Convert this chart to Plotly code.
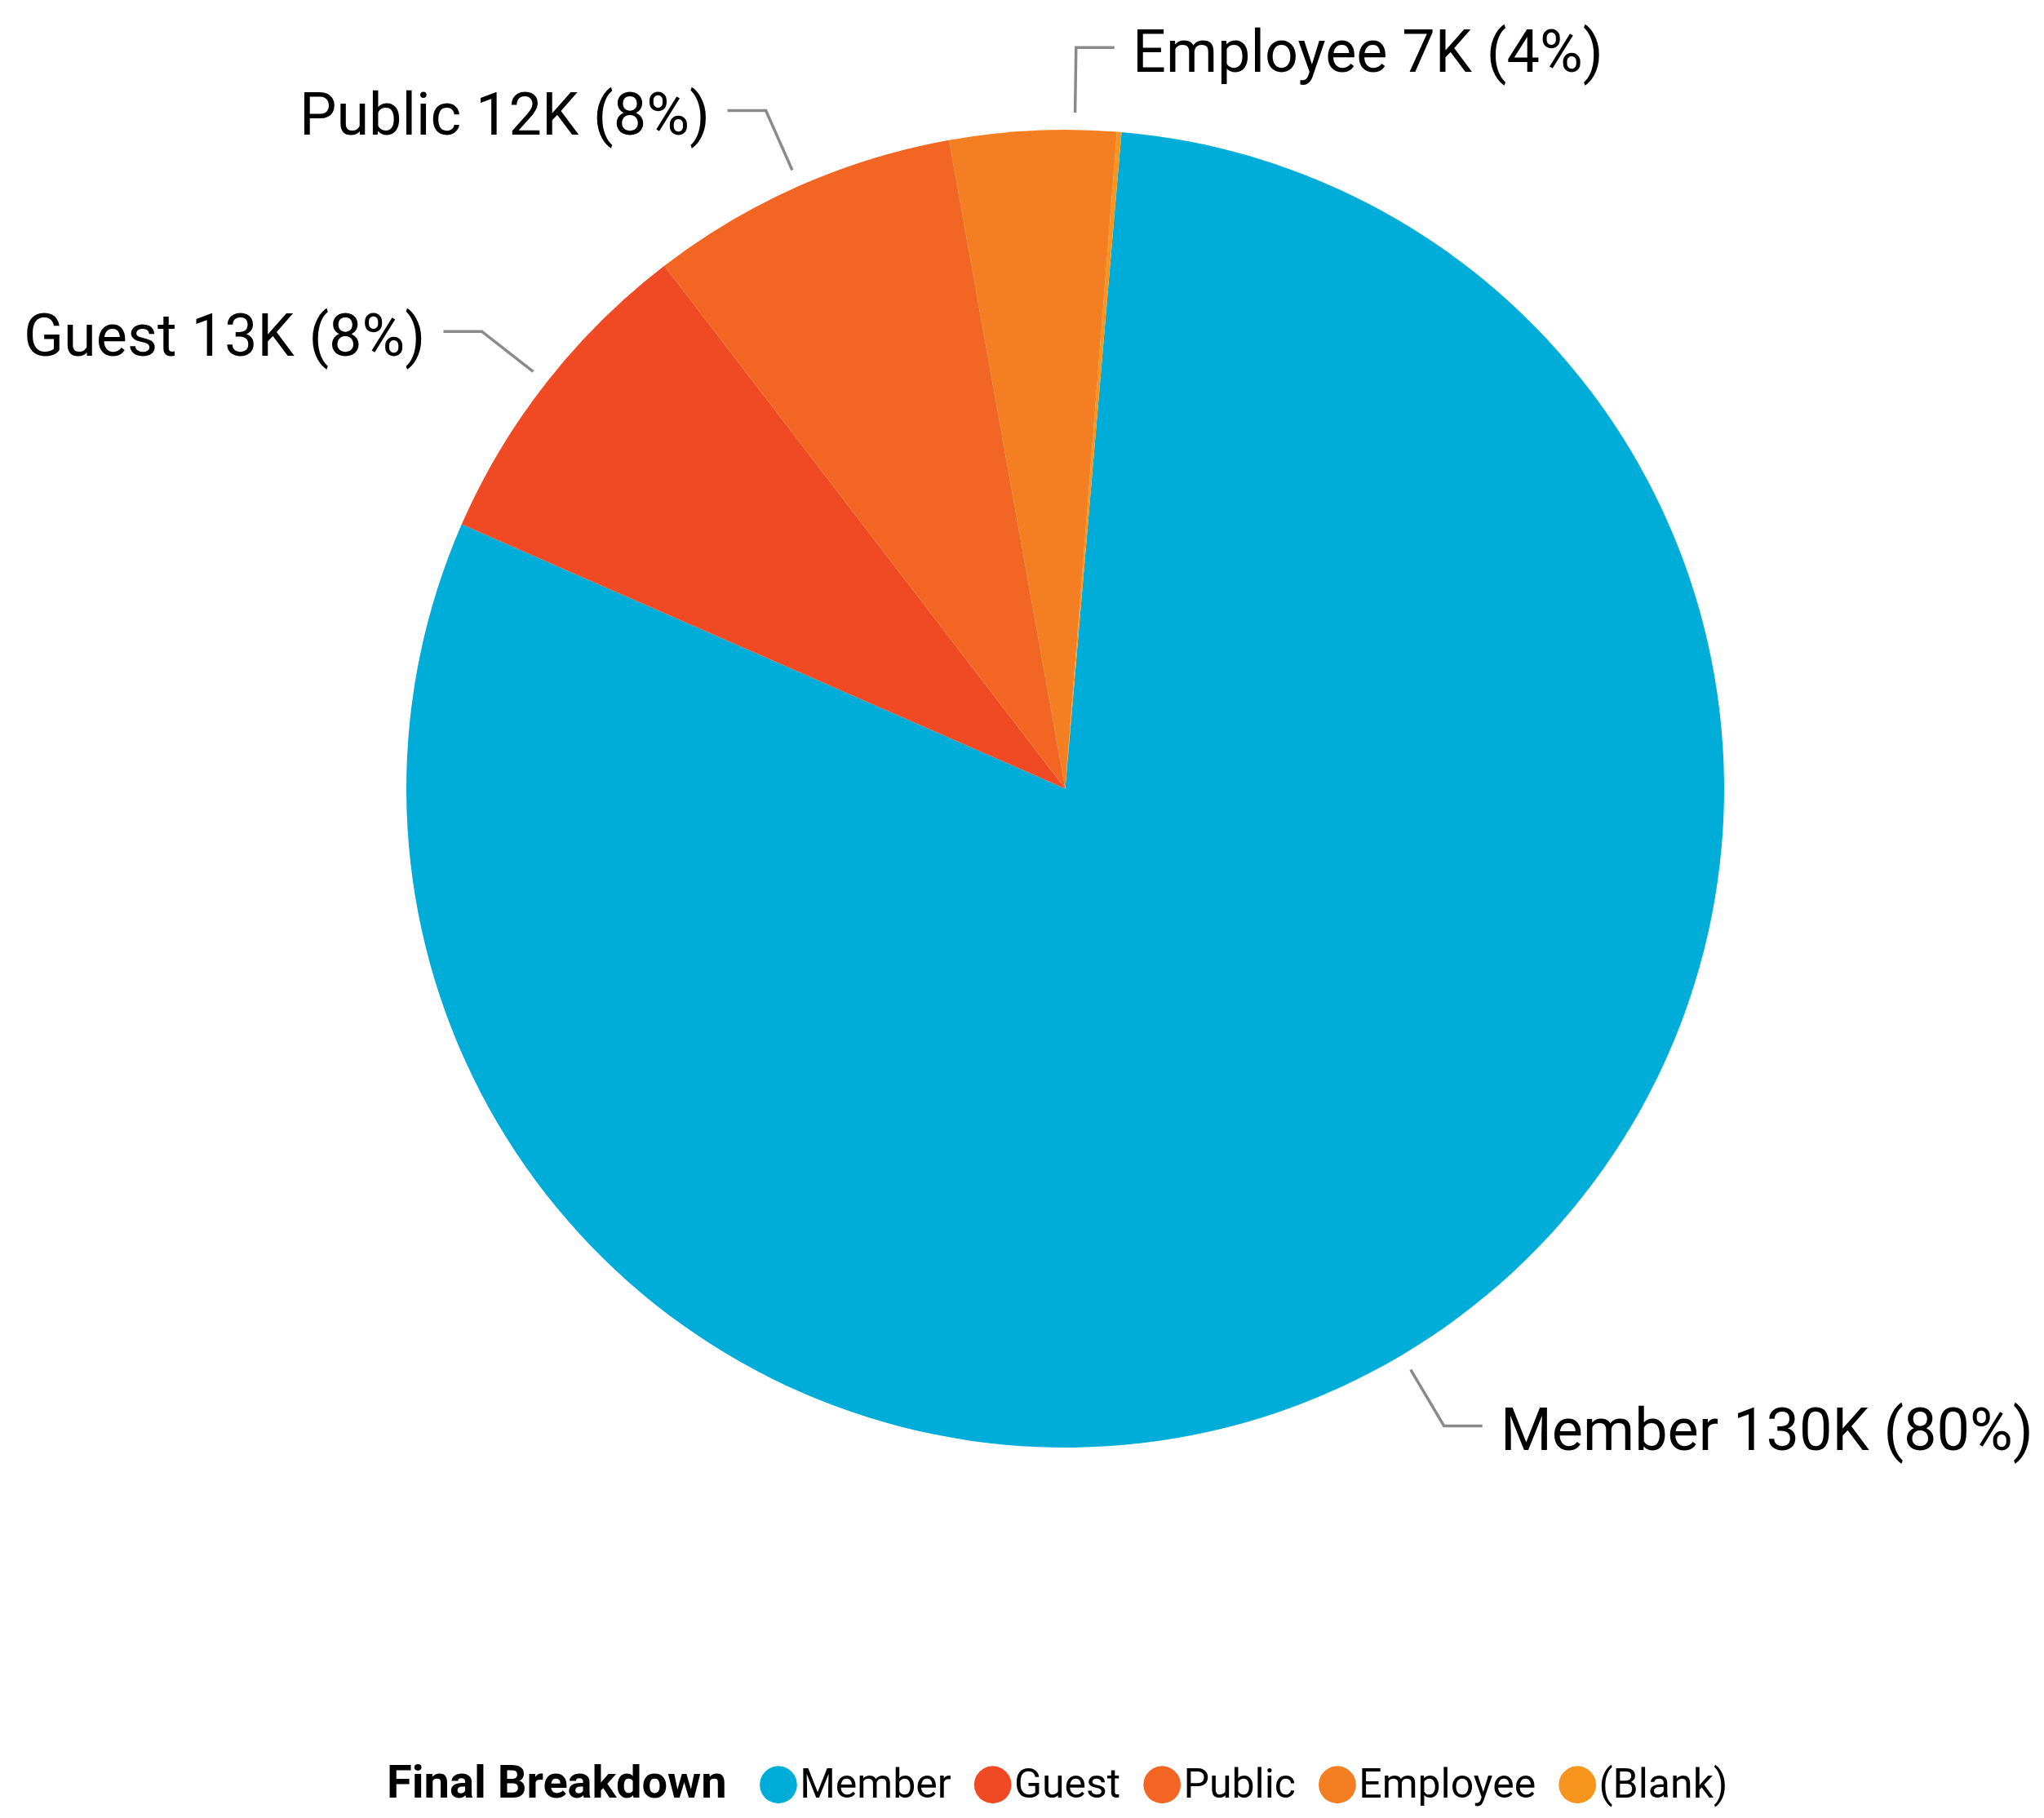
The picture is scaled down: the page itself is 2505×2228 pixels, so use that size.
import math
import plotly.graph_objects as go

# ---- data ----
categories = ["Member", "Guest", "Public", "Employee", "(Blank)"]
values = [130000, 13000, 12300, 6600, 180]
colors = ["#00ADD9", "#F04A24", "#F26523", "#F47F22", "#F7951E"]
legend_title = "Final Breakdown"

# ---- layout settings ----
PAGE_MARGIN = 8          # default body margin of the html page
W, H = 2505 - 2 * PAGE_MARGIN, 2228 - 2 * PAGE_MARGIN
# pie box (in screen pixels): left 498, right 2113, top 159, bottom 1774
dom_x = [(498 - PAGE_MARGIN) / W, (2113 - PAGE_MARGIN) / W]
dom_y = [1 - (1774 - PAGE_MARGIN) / H, 1 - (159 - PAGE_MARGIN) / H]
rotation = 4.9
label_font = dict(family="Roboto, 'Noto Sans', sans-serif", size=72, color="#000000")
leader_color = "#8A8A8A"

fig = go.Figure(
    go.Pie(
        labels=categories,
        values=values,
        sort=False,
        direction="clockwise",
        rotation=rotation,
        marker=dict(colors=colors, line=dict(color="white", width=0)),
        textinfo="none",
        showlegend=False,
        domain=dict(x=dom_x, y=dom_y),
        hoverinfo="label+value+percent",
    )
)

# pie geometry in figure pixels (as plotly computes it)
cx = W * (dom_x[0] + dom_x[1]) / 2
cy = H * (1 - (dom_y[0] + dom_y[1]) / 2)
r = min(W * (dom_x[1] - dom_x[0]), H * (dom_y[1] - dom_y[0])) / 2


def to_paper(x, y):
    return x / W, 1 - y / H


def polar(angle_deg, radius):
    a = math.radians(angle_deg)
    return cx + radius * math.sin(a), cy - radius * math.cos(a)


def fmt_k(v):
    return f"{int(v / 1000 + 0.5)}K"


total = sum(values)
annotations = []
shapes = []
acc = rotation
for cat, v in zip(categories, values):
    span = 360.0 * v / total
    a0, a1 = acc, acc + span
    acc = a1
    pct = 100.0 * v / total
    if pct < 1:
        continue
    mid = (a0 + a1) / 2
    s = math.sin(math.radians(mid))
    right = s > -0.1
    anchor = mid
    if right and s < 0:
        anchor = (mid + a1) / 2
    x0, y0 = polar(anchor, r * 1.026)
    x1, y1 = polar(anchor, r * 1.125)
    x2 = x1 + (47 if right else -47)
    xt = x2 + (20 if right else -20)
    p0 = to_paper(x0, y0)
    p1 = to_paper(x1, y1)
    p2 = to_paper(x2, y1)
    shapes.append(dict(
        type="path", xref="paper", yref="paper",
        path=f"M {p0[0]},{p0[1]} L {p1[0]},{p1[1]} L {p2[0]},{p2[1]}",
        line=dict(color=leader_color, width=3.5),
    ))
    pt = to_paper(xt, y1 + 5)
    annotations.append(dict(
        x=pt[0], y=pt[1], xref="paper", yref="paper",
        text=f"{cat} {fmt_k(v)} ({pct:.0f}%)",
        showarrow=False, xanchor="left" if right else "right", yanchor="middle",
        font=label_font,
    ))

# legend line (title + coloured dots + category names)
items = [
    f'<span style="font-family:DejaVu Sans;font-size:60px;color:{c}">\u25cf</span>{cat}'
    for cat, c in zip(categories, colors)
]
legend_text = (f'<span style="font-size:56px"><b>{legend_title}</b></span>   '
               + "  ".join(items))
annotations.append(dict(
    x=(1295 - PAGE_MARGIN) / W, y=1 - (H - 1) / H,
    xref="paper", yref="paper",
    text=legend_text, showarrow=False, xanchor="center", yanchor="bottom",
    font=dict(family="Roboto, 'Noto Sans', sans-serif", size=50, color="#000000"),
))

fig.update_layout(
    width=W, height=H,
    margin=dict(l=0, r=0, t=0, b=0),
    paper_bgcolor="white",
    plot_bgcolor="white",
    annotations=annotations,
    shapes=shapes,
    showlegend=False,
)

fig.write_html("out.html")
